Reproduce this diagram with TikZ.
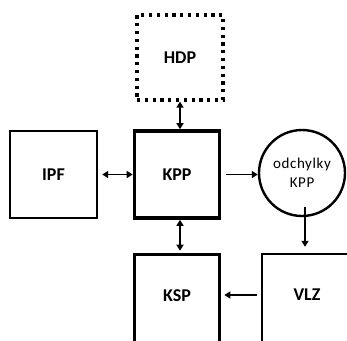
\documentclass[tikz,border=0pt]{standalone}
\usepackage{fontspec}
\setmainfont{Carlito}
\usetikzlibrary{arrows.meta,calc}
\begin{document}
\begin{tikzpicture}[x=1pt,y=-1pt,
  box/.style={draw=black,line width=2.4pt,minimum width=87pt,minimum height=87pt,inner sep=0pt,
    font=\fontsize{18}{20}\selectfont\bfseries},
  thickbox/.style={box,line width=3.6pt,minimum width=85pt},
  dotbox/.style={box,line width=3.2pt,dash pattern=on 3.2pt off 4.6pt,minimum width=86pt,minimum height=85pt},
  circ/.style={draw=black,circle,line width=2.4pt,minimum size=86pt,inner sep=0pt,align=center,
    font=\fontsize{15}{19}\selectfont\addfontfeature{LetterSpace=4}},
  conn/.style={line width=1.9pt,-{Triangle[length=6pt,width=7pt]}},
  bconn/.style={line width=1.9pt,{Triangle[length=6pt,width=7pt]}-{Triangle[length=6pt,width=7pt]}}]
\useasboundingbox (0,0) rectangle (347,340);
\node[dotbox] (HDP) at (180,57.5) {HDP};
\node[thickbox] (KPP) at (177,174.5) {KPP};
\node[box] (IPF) at (53.5,174.5) {IPF};
\node[circ] (ODCH) at (302,173) {odchylky\\KPP};
\node[thickbox,minimum height=90pt,text depth=8pt] (KSP) at (177,299.5) {KSP};
\node[box,minimum width=90pt,minimum height=90pt,text depth=8pt] (VLZ) at (307,299) {VLZ};
\draw[bconn] ([xshift=0pt]HDP.south) -- ([xshift=3pt]KPP.north);
\draw[bconn,shorten <=4pt] (IPF.east) -- (KPP.west);
\draw[conn,shorten <=5pt] (KPP.east) -- (KPP.east -| ODCH.west);
\draw[bconn,shorten >=2pt] ([xshift=3pt]KPP.south) -- ([xshift=3pt]KSP.north);
\coordinate (c1) at ($(ODCH.south)+(3pt,10pt)$);
\draw[conn,shorten >=6pt] (c1) -- (c1 |- VLZ.north);
\draw[conn,shorten <=4pt,shorten >=3pt] (VLZ.west |- 0,295) -- (KSP.east |- 0,295);
\end{tikzpicture}
\end{document}
